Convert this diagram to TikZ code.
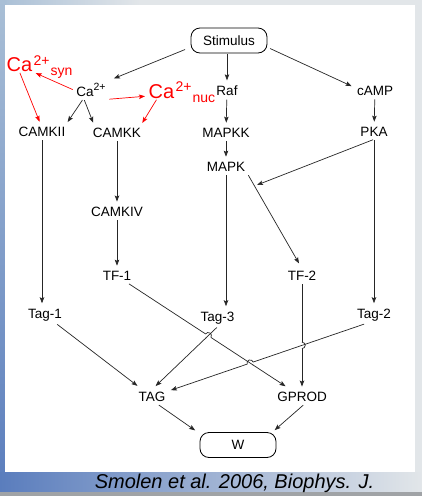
\documentclass[tikz,border=0pt]{standalone}
\usepackage{fontspec}
\setmainfont{Liberation Sans}
\usetikzlibrary{arrows.meta,intersections,positioning}

\definecolor{slideblue}{HTML}{5A7DBD}
\definecolor{slidelight}{HTML}{A9BFD6}
\definecolor{slidegray}{HTML}{E2E6E9}
\definecolor{slideline}{HTML}{A0A3A6}

% a small jump of one wire over another
\newcommand{\linehop}[4]{%
    \fill[white] (#1) circle (3.2);
    \draw[wire] (#1) ++(#3:3.6) -- ++(#3+180:7.2);
    \draw[wire] (#1) ++(#2:3.2) arc[start angle=#2, delta angle=#4, radius=3.2];
}

\begin{document}
\begin{tikzpicture}[
    x=1pt, y=-1pt,
    lbl/.style={inner sep=2.5pt, font=\fontsize{13.5}{16}\selectfont},
    endbox/.style={lbl, draw, line width=0.8pt, rounded corners=9pt,
        minimum width=76pt, minimum height=25pt},
    redca/.style={inner sep=0.5pt, red, font=\fontsize{20}{22}\selectfont},
    redscript/.style={inner sep=0pt, red, font=\fontsize{14}{16}\selectfont},
    wire/.style={line width=0.7pt, black!85},
    conn/.style={wire, -{Stealth[length=6pt, width=4.5pt, inset=1.2pt]},
        shorten >=3pt, shorten <=1pt},
    redconn/.style={conn, red},
    cite/.style={inner sep=0pt, font=\itshape\fontsize{20}{22}\selectfont}
        ]

    \path [use as bounding box] (0,0) rectangle (422,496);

    % slide behind the figure
    \fill [slidegray] (0,0) rectangle (422,496);
    \shade [left color=slidelight, right color=slidegray] (0,0) rectangle (140,6);
    \shade [top color=slidelight, bottom color=slideblue] (0,0) rectangle (6,492);
    \shade [left color=slideblue, right color=slidegray] (0,472) rectangle (422,492);
    \fill [slideline] (0,492) rectangle (422,496);
    \fill [white] (5,5) rectangle (415,472);

    \node [endbox] (stim) at (229,40.5) {Stimulus};

    \node [lbl] (ca) at (91,90) {Ca\raisebox{0.42em}{\fontsize{10.5}{11}\selectfont 2+}};
    \node [lbl] (raf) at (227,91) {Raf};
    \node [lbl] (camp) at (375,91) {cAMP};

    \node [redca, anchor=base west] (casyn) at (6,71) {Ca};
    \node [redscript, anchor=base west] (casynup) at ([shift={(0.5,-6)}]casyn.base east) {2+};
    \node [redscript, anchor=base west] (casyndown) at ([shift={(0.5,10)}]casynup.base east) {syn};

    \node [redca, anchor=base west] (canuc) at (148,98) {Ca};
    \node [redscript, anchor=base west] (canucup) at ([shift={(0.5,-6.5)}]canuc.base east) {2+};
    \node [redscript, anchor=base west] (canucdown) at ([shift={(0.5,10.5)}]canucup.base east) {nuc};

    \node [lbl] (camkii) at (42,132) {CAMKII};
    \node [lbl] (camkk) at (117,133) {CAMKK};
    \node [lbl] (mapkk) at (226,133) {MAPKK};
    \node [lbl] (pka) at (374,132) {PKA};
    \node [lbl] (mapk) at (226,167) {MAPK};
    \coordinate (mapkport) at (257,185);

    \node [lbl] (camkiv) at (117,212) {CAMKIV};
    \node [lbl] (tfone) at (117,276) {TF-1};
    \node [lbl] (tftwo) at (302,276) {TF-2};

    \node [lbl] (tagone) at (45,315) {Tag-1};
    \node [lbl] (tagthree) at (217.5,318) {Tag-3};
    \node [lbl] (tagtwo) at (374,315) {Tag-2};

    \node [lbl] (TAG) at (152,397) {TAG};
    \node [lbl] (gprod) at (302,397) {GPROD};
    \node [endbox] (w) at (238,445) {W};

    \node [cite] (ref) at (234.5,483) {Smolen et al. 2006, Biophys. J.};

    % stimulus
    \draw [conn, shorten <=6pt, shorten >=6pt] (stim.190) -- (ca.north east);
    \draw [conn] (raf |- stim.south) -- (raf);
    \draw [conn, shorten <=3pt] (stim.350) -- (camp.170);

    % calcium
    \draw [redconn] (ca.west) -- (casyn.south east);
    \draw [redconn] (ca.south east) -- (canuc.200);
    \draw [redconn] (casyn.south) -- (camkii.100);
    \draw [redconn] (canuc.240) -- ([xshift=-3pt]camkk.north east);
    \draw [conn] ([xshift=-8pt]ca.south) -- ([xshift=-2pt]camkii.north east);
    \draw [conn] ([xshift=-7pt]ca.south) -- ([xshift=4pt]camkk.north west);

    \draw [conn] (camkii) -- (camkii |- tagone.north);
    \draw [conn] (camkk) -- (camkiv);
    \draw [conn] (camkiv) -- (tfone);

    % MAP kinase
    \draw [conn] (raf) -- (mapkk);
    \draw [conn] (mapkk) -- (mapk);
    \draw [conn] (mapk) -- (mapk |- tagthree.north);
    \draw [conn, shorten >=6pt] (mapk.south east) -- (tftwo.north);

    % cAMP
    \draw [conn] (camp) -- (pka);
    \draw [conn, shorten >=0pt] (pka.south) -- (mapkport);
    \draw [conn] (pka) -- (tagtwo);

    % tags and products
    \draw [conn, shorten >=6pt] (tagone) -- (TAG);
    \draw [conn, shorten >=6pt, name path=tfg] (tfone) -- (gprod);
    \draw [conn, shorten >=5pt, name path=t3T] (tagthree.south) -- (TAG.north);
    \draw [conn, name path=t2T] ([xshift=-9pt]tagtwo.south) -- (TAG.20);
    \draw [conn, name path=tf2g] (tftwo) -- (gprod);

    \path [name intersections={of=tfg and t3T, by=hopa}];
    \path [name intersections={of=tfg and t2T, by=hopb}];
    \path [name intersections={of=tf2g and t2T, by=hopc}];
    \linehop{hopa}{33.7}{136.2}{-180}
    \linehop{hopb}{162}{33.7}{180}
    \linehop{hopc}{90}{162}{-180}

    \draw [conn] ([xshift=6pt]TAG.south) -- ([xshift=-2pt]w.north west);
    \draw [conn] ([xshift=2pt]gprod.south) -- ([xshift=-4pt]w.north east);

\end{tikzpicture}
\end{document}
